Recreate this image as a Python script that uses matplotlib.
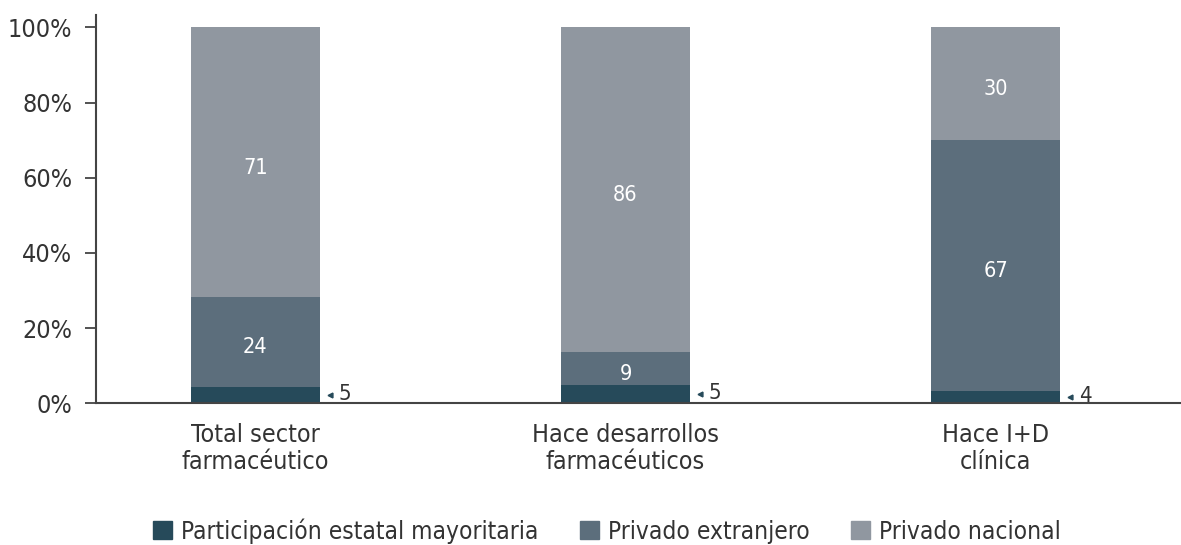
import matplotlib.pyplot as plt
from matplotlib.patches import Patch

# data (percent of firms)
categories = ['Total sector\nfarmacéutico', 'Hace desarrollos\nfarmacéuticos', 'Hace I+D\nclínica']
estatal = [4.4, 4.9, 3.3]
extranjero = [23.9, 8.8, 66.7]
nacional = [71.7, 86.3, 30.0]
estatal_lbl = ['5', '5', '4']
extranjero_lbl = ['24', '9', '67']
nacional_lbl = ['71', '86', '30']
series_names = ['Participación estatal mayoritaria', 'Privado extranjero', 'Privado nacional']

colors = ['#264a5a', '#5c6e7c', '#9097a0']
txt_color = '#333333'
plt.rcParams['font.family'] = ['DejaVu Sans']
plt.rcParams['font.stretch'] = 'condensed'

fig = plt.figure(figsize=(11.81, 5.45), dpi=100)
ax = fig.add_axes([0.0813, 0.26, 0.9187, 0.7125])

x = list(range(len(categories)))
w = 0.348
bottom2 = [a + b for a, b in zip(estatal, extranjero)]
ax.bar(x, estatal, w, color=colors[0])
ax.bar(x, extranjero, w, bottom=estatal, color=colors[1])
ax.bar(x, nacional, w, bottom=bottom2, color=colors[2])

for i in x:
    ax.annotate(extranjero_lbl[i], (i, estatal[i] + extranjero[i] / 2), xytext=(0, -4),
                textcoords='offset points', color='white', ha='center', va='center',
                fontsize=15.5)
    ax.annotate(nacional_lbl[i], (i, bottom2[i] + nacional[i] / 2), xytext=(0, -4),
                textcoords='offset points', color='white', ha='center', va='center',
                fontsize=15.5)
    # small pointer + label for the tiny bottom segment
    px = i + w / 2 + 0.027
    ax.plot(px, estatal[i] / 2, marker='<', ms=3.5, color=colors[0], clip_on=False)
    ax.annotate(estatal_lbl[i], (px, estatal[i] / 2), xytext=(6, 1),
                textcoords='offset points', ha='left', va='center',
                fontsize=16, color=txt_color)

ax.set_xlim(-0.43, 2.5)
ax.set_ylim(0, 103.3)
ax.set_yticks([0, 20, 40, 60, 80, 100])
ax.set_yticklabels(['0%', '20%', '40%', '60%', '80%', '100%'])
ax.set_xticks(x)
ax.set_xticklabels(categories, linespacing=1.18)
ax.tick_params(axis='y', length=8, width=1.3, color='#444444', labelsize=18,
               labelcolor=txt_color, pad=9)
ax.tick_params(axis='x', length=0, labelsize=18, labelcolor=txt_color, pad=14)
for s in ['top', 'right']:
    ax.spines[s].set_visible(False)
for s in ['left', 'bottom']:
    ax.spines[s].set_color('#444444')
    ax.spines[s].set_linewidth(1.5)

handles = [Patch(color=c) for c in colors]
fig.legend(handles, series_names, loc='center', bbox_to_anchor=(0.514, 0.026), ncol=3,
           frameon=False, fontsize=17.6, handlelength=0.78, handleheight=0.78,
           handletextpad=0.37, columnspacing=1.68, labelcolor=txt_color)

fig.savefig('out.png', dpi=100)
